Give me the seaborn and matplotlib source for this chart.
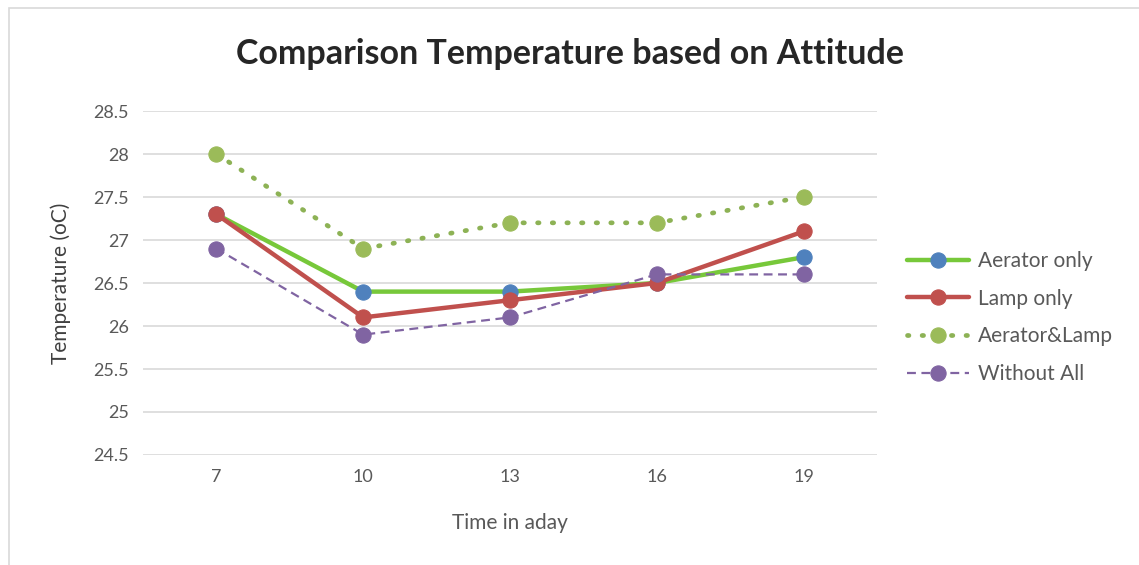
import numpy as np
import pandas as pd
import matplotlib.pyplot as plt
import seaborn as sns
from matplotlib.patches import Rectangle

# data
hours = [7, 10, 13, 16, 19]
aerator_only = [27.3, 26.4, 26.4, 26.5, 26.8]
lamp_only = [27.3, 26.1, 26.3, 26.5, 27.1]
aerator_lamp = [28.0, 26.9, 27.2, 27.2, 27.5]
without_all = [26.9, 25.9, 26.1, 26.6, 26.6]
y_ticks = [24.5, 25, 25.5, 26, 26.5, 27, 27.5, 28, 28.5]

sns.set_style("white")
plt.rcParams['font.family'] = ['Lato', 'DejaVu Sans']

fig = plt.figure(figsize=(11.39, 5.65), dpi=100)
ax = fig.add_axes([0.1255, 0.1947, 0.6445, 0.6088])

series = [
    ("Aerator only", aerator_only, dict(color="#77c83a", linestyle="-", linewidth=3.2, mfc="#4f81bd")),
    ("Lamp only", lamp_only, dict(color="#c0504d", linestyle="-", linewidth=3.2, mfc="#c0504d")),
    ("Aerator&Lamp", aerator_lamp, dict(color="#8db255", linestyle=(0, (0.3, 2.8)), linewidth=3.4,
                                        mfc="#9bbb59", dash_capstyle="round")),
    ("Without All", without_all, dict(color="#8064a2", linestyle=(0, (4, 2.5)), linewidth=1.6, mfc="#8064a2")),
]

for name, vals, st in series:
    df = pd.DataFrame({"hour": hours, "temp": vals})
    mfc = st.pop("mfc")
    sns.lineplot(data=df, x="hour", y="temp", ax=ax, label=name, marker="o",
                 markersize=11, markerfacecolor=mfc, markeredgecolor=mfc, **st)

ax.set_xlim(5.5, 20.5)
ax.set_ylim(24.5, 28.5)
ax.set_xticks(hours)
ax.set_xticklabels([str(h) for h in hours])
ax.set_yticks(y_ticks)
ax.set_yticklabels([f"{t:g}" for t in y_ticks])
ax.grid(axis="y", color="#d9d9d9", linewidth=1.2)
ax.set_axisbelow(True)
for s in ["top", "right", "left", "bottom"]:
    ax.spines[s].set_visible(False)
ax.tick_params(axis="both", length=0, labelsize=13, colors="#595959", pad=10)

ax.set_xlabel("Time in aday", fontsize=15, color="#595959", labelpad=20)
ax.set_ylabel("Temperature (oC)", fontsize=15, color="#404040", labelpad=16)
fig.text(0.5, 0.905, "Comparison Temperature based on Attitude", ha="center", va="center",
         fontsize=24.5, fontweight="bold", color="#262626")

leg = ax.legend(loc="center left", bbox_to_anchor=(1.015, 0.40), frameon=False,
                fontsize=15, handlelength=3.0, labelspacing=0.85, handletextpad=0.4)
for t in leg.get_texts():
    t.set_color("#595959")

fig.patches.append(Rectangle((0.008, -0.1), 1.1, 1.086, transform=fig.transFigure,
                             fill=False, edgecolor="#d9d9d9", linewidth=1.2))

fig.savefig("out.png", dpi=100)
